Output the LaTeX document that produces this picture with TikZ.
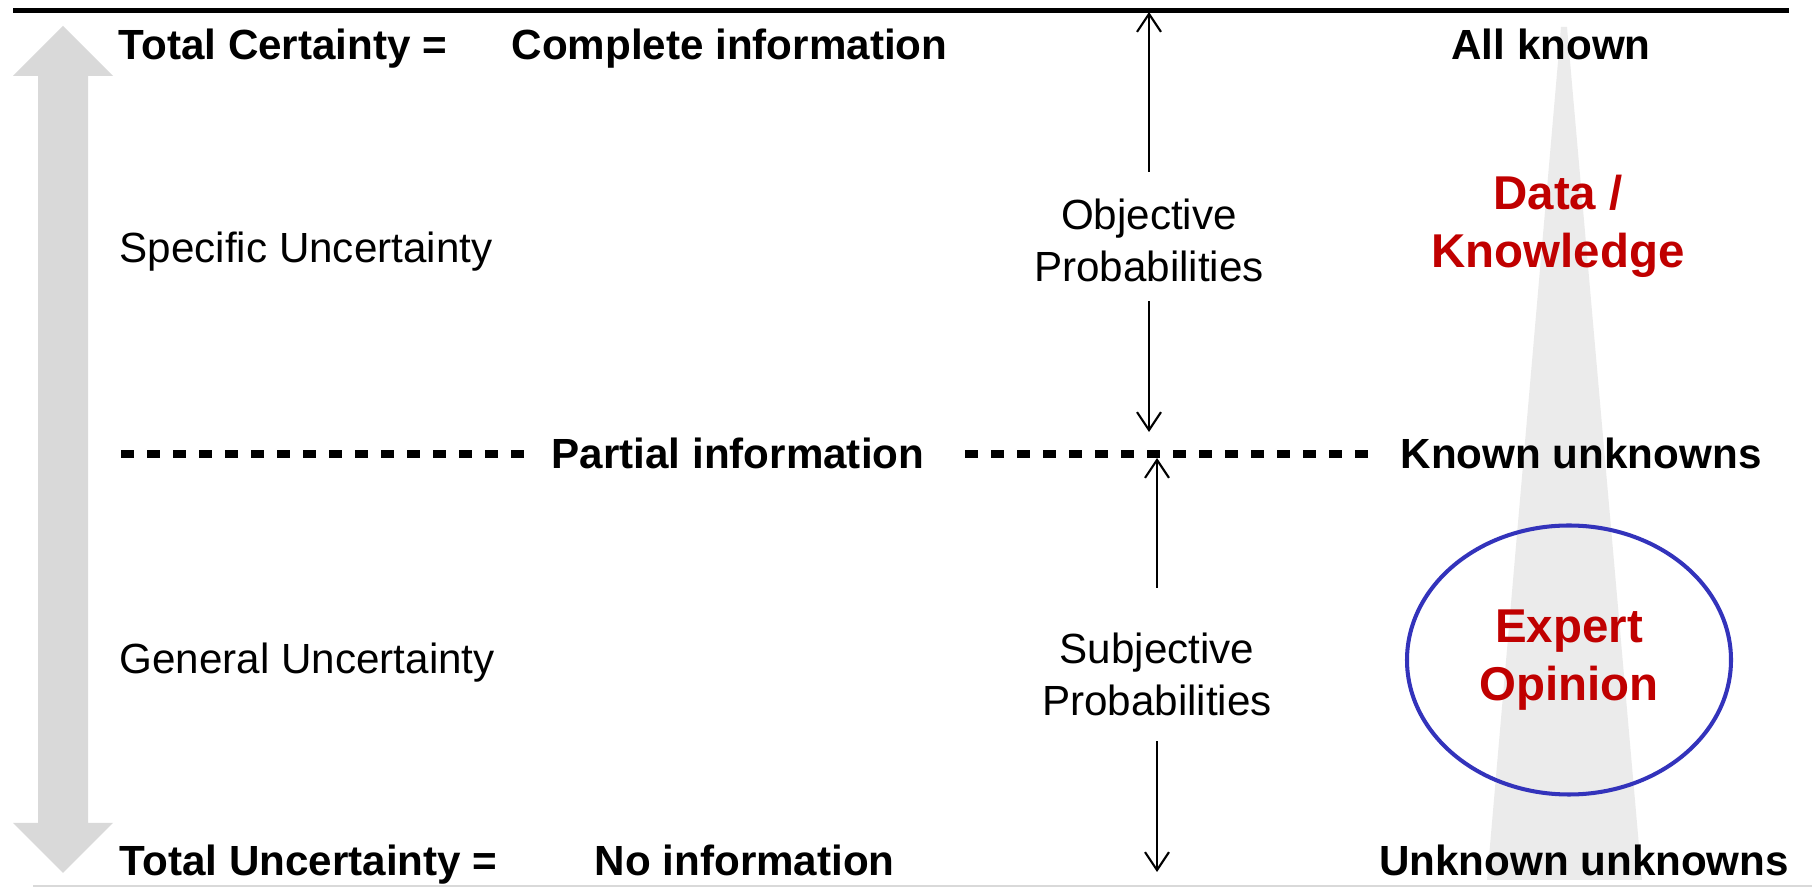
\documentclass[tikz,border=0pt]{standalone}
\usepackage{fontspec}
\setmainfont{Liberation Sans}
\usetikzlibrary{positioning, shapes.geometric, arrows.meta, calc}
\definecolor{darkred}{RGB}{192,0,0}
\definecolor{ovalblue}{RGB}{51,51,187}
\definecolor{arrowgray}{RGB}{217,217,217}
\definecolor{wedgegray}{RGB}{235,235,235}

\begin{document}
\begin{tikzpicture}[
    bold/.style={font=\fontsize{12}{14.8}\selectfont\bfseries, inner sep=0},
    plain/.style={font=\fontsize{12}{14.8}\selectfont, inner sep=0},
    redtext/.style={font=\fontsize{13.5}{16.5}\selectfont\bfseries, text=darkred, align=center, inner sep=0},
    probarrow/.style={line width=0.6pt, -{Straight Barb[length=1.8mm, width=2.4mm]}},
    dashline/.style={line width=2pt, dash pattern=on 3.8pt off 3.6pt}
  ]
  \useasboundingbox (0,0) rectangle (18.12,-8.87);

  \fill[wedgegray] (15.61,-0.27) -- (15.67,-0.27) -- (16.42,-8.80) -- (14.87,-8.80) -- cycle;
  \fill[arrowgray] (0.63,-0.26) -- (1.13,-0.76) -- (0.88,-0.76) -- (0.88,-8.23) -- (1.13,-8.23)
    -- (0.63,-8.73) -- (0.13,-8.23) -- (0.38,-8.23) -- (0.38,-0.76) -- (0.13,-0.76) -- cycle;

  \draw[line width=1.15pt] (0.13,-0.105) -- (17.89,-0.105);
  \draw[arrowgray, line width=0.6pt] (0.33,-8.86) -- (18.12,-8.86);

  \node[bold, anchor=base west] (tc) at (1.18,-0.60) {Total Certainty =};
  \node[bold, base right=0.63cm of tc] (ci) {Complete information};
  \node[bold, anchor=base] (ak) at (15.51,-0.60) {All known};

  \node[plain, anchor=base west] (su) at (1.19,-2.63) {Specific Uncertainty};
  \node[plain, align=center] (obj) at (11.49,-2.40) {Objective\\Probabilities};
  \node[redtext] (data) at (15.58,-2.26) {Data /\\Knowledge};

  \coordinate (dl) at (1.21,-4.54);
  \node[bold, anchor=base] (pi) at (7.38,-4.69) {Partial information};
  \node[bold, anchor=base west] (ku) at (14.00,-4.69) {Known unknowns};
  \draw[dashline, shorten >=0.26cm] (dl) -- (dl -| pi.west);
  \draw[dashline, shorten <=0.40cm, shorten >=0.31cm] (pi.east |- dl) -- (ku.west |- dl);

  \node[plain, anchor=base west] (gu) at (1.19,-6.74) {General Uncertainty};
  \node[plain, align=center] (subj) at (11.57,-6.74) {Subjective\\Probabilities};
  \node[draw=ovalblue, line width=1.15pt, ellipse, minimum width=3.24cm, minimum height=2.69cm,
        redtext] (expert) at (15.69,-6.60) {Expert\\Opinion};

  \node[bold, anchor=base west] (tu) at (1.19,-8.76) {Total Uncertainty =};
  \node[bold, base right=0.96cm of tu] (ni) {No information};
  \node[bold, anchor=base] (uu) at (15.84,-8.76) {Unknown unknowns};

  \coordinate (ta) at (11.50,-0.12);
  \coordinate (ma) at (11.52,-4.32);
  \coordinate (mb) at (11.56,-4.58);
  \coordinate (ba) at (11.56,-8.72);
  \draw[probarrow, shorten <=0.26cm] (obj.north) -- (obj.north |- ta);
  \draw[probarrow, shorten <=0.19cm] (obj.south) -- (obj.south |- ma);
  \draw[probarrow, shorten <=0.44cm] (subj.north) -- (subj.north |- mb);
  \draw[probarrow, shorten <=0.25cm] (subj.south) -- (subj.south |- ba);
\end{tikzpicture}
\end{document}
